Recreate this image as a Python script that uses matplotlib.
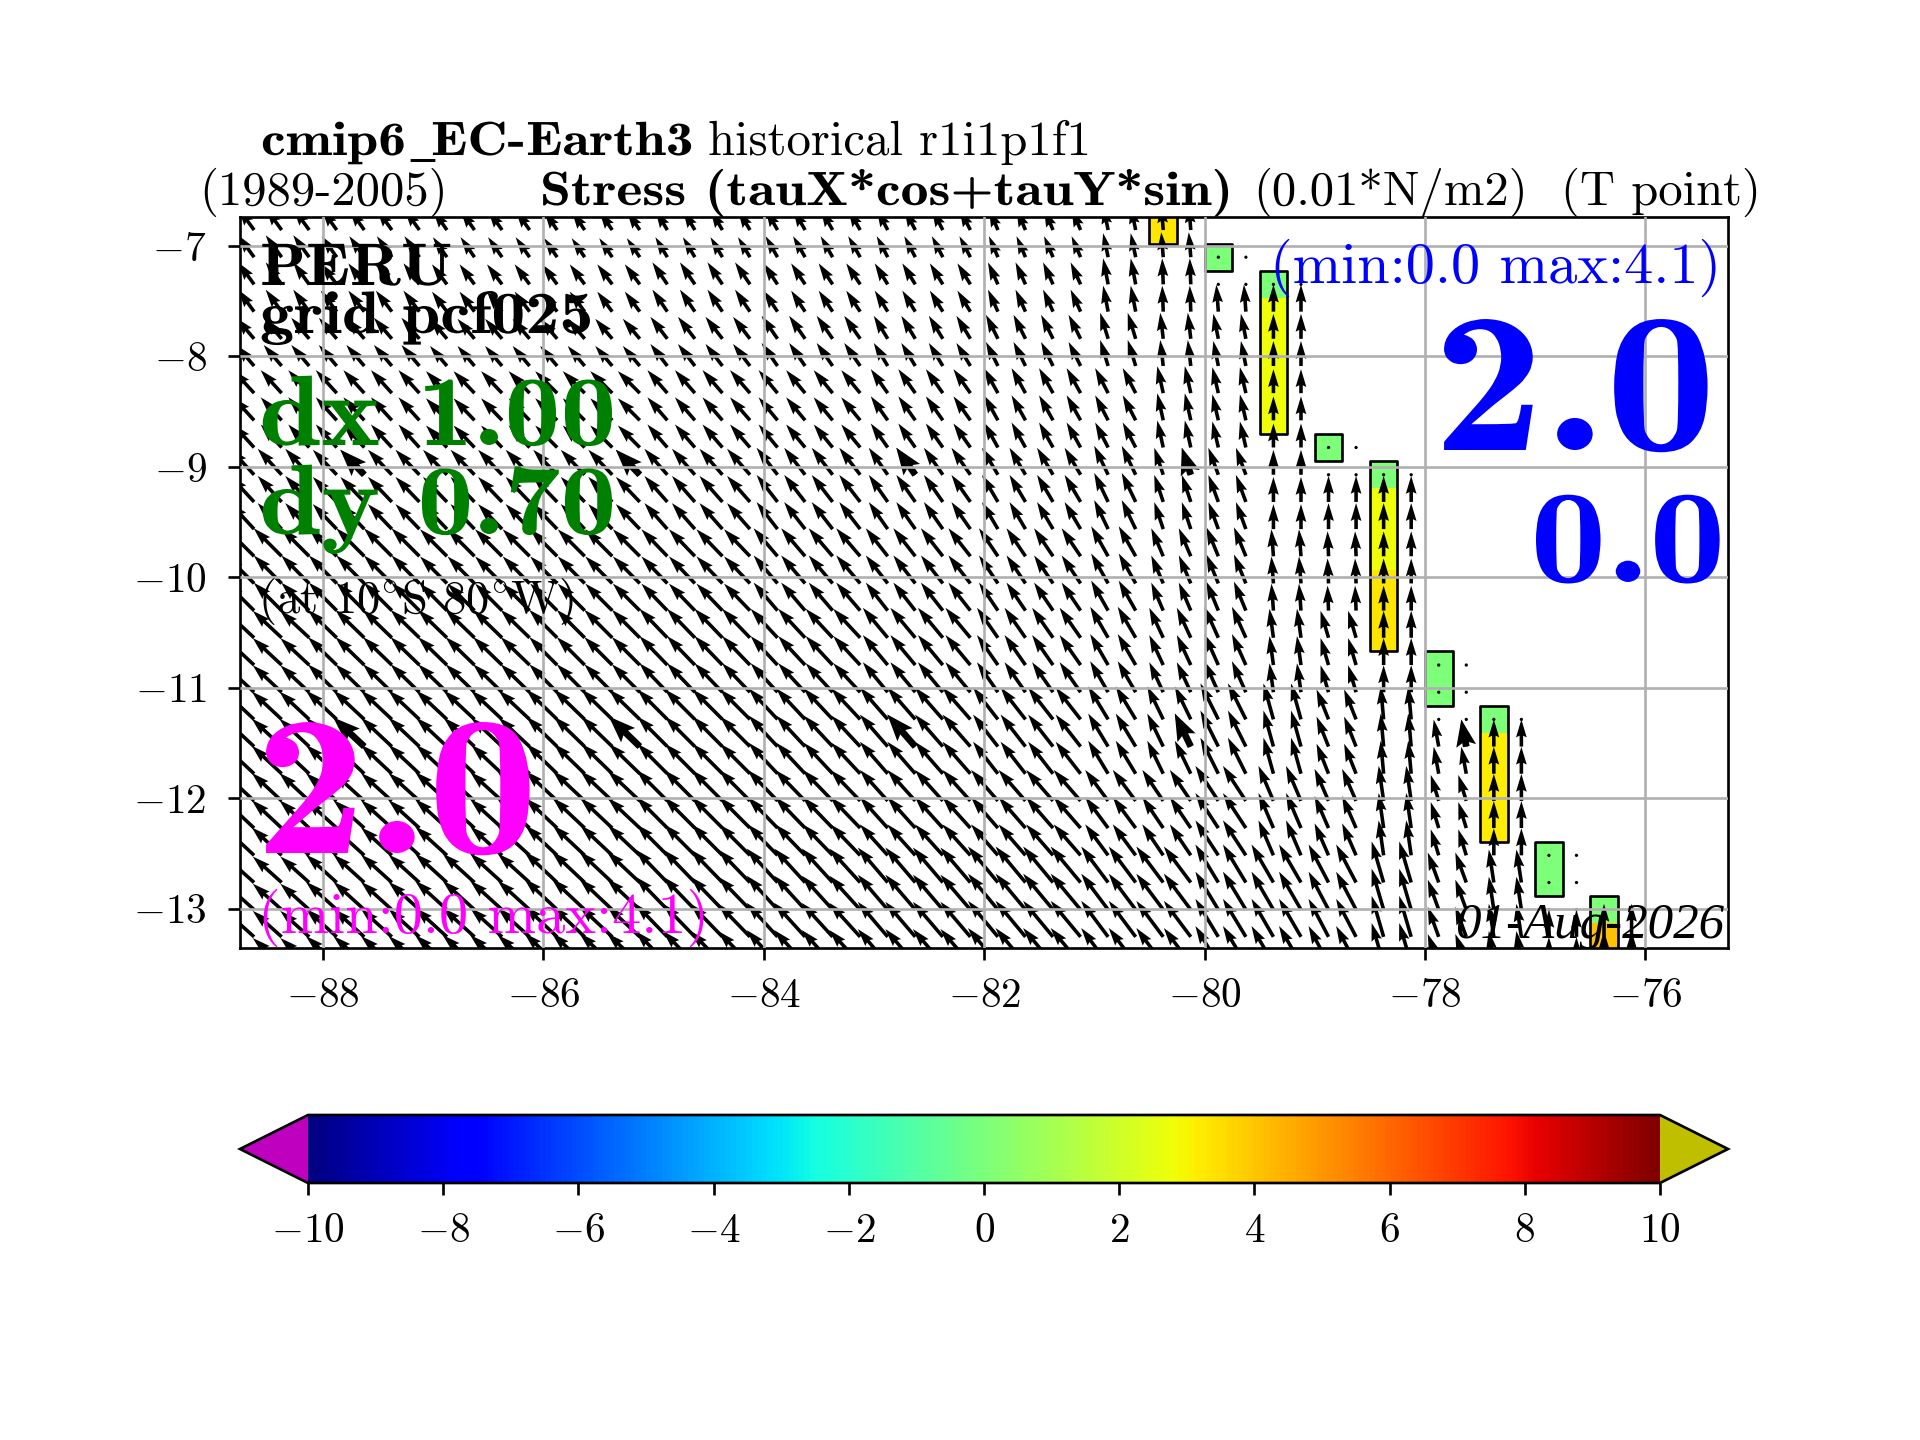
"""Wind stress vectors and magnitude cells off Peru (cmip6 EC-Earth3)"""
import numpy as np
import matplotlib
matplotlib.use('Agg')
import matplotlib.pyplot as plt
from matplotlib.patches import Rectangle
from matplotlib.patheffects import AbstractPathEffect
from matplotlib.transforms import Affine2D

plt.rcParams['font.family'] = ['cmr10']
plt.rcParams['mathtext.fontset'] = 'cm'
plt.rcParams['axes.unicode_minus'] = False

W, H = 1920.0, 1440.0

# fine grid: 0.25 deg in lon, mercator-like in lat
lons = np.arange(-88.625, -76.0, 0.25)
lats = np.array([-6.856, -7.102, -7.348, -7.595, -7.841, -8.087, -8.333, -8.579,
                 -8.825, -9.072, -9.318, -9.564, -9.810, -10.056, -10.302, -10.548,
                 -10.795, -11.041, -11.287, -11.533, -11.779, -12.025, -12.271,
                 -12.518, -12.764, -13.010, -13.256, -13.502])
first_k = -1  # index of lats[0] in the row numbering used below

# the model grid is coarser: block sizes in fine cells
row_counts = [2, 2, 2, 3, 3, 3, 3, 3, 3, 4]
col_counts = [3, 4, 4, 4, 4, 4, 4, 4, 2, 2, 2, 2, 2, 2, 2, 2, 2, 2]

# vector components per block, eastward and northward
taux_blocks = [
    [-16, -15, -14, -13, -12, -12, -11, -9, -5, -2, 0, 0, 0, 0, 0, 0, 0, 0],
    [-16, -16, -15, -15, -15, -14, -13, -10, -5, -1, -2, 0, 0, 0, 0, 0, 0, 0],
    [-18, -18, -17, -17, -17, -16, -14, -12, -8, -3, -5, 0, 0, 0, 0, 0, 0, 0],
    [-21, -21, -21, -22, -20, -19, -17, -14, -13, -6, -6, 0, 0, 0, 0, 0, 0, 0],
    [-24, -24, -24, -24, -23, -21, -19, -16, -14, -9, -10, 0, 0, 0, 0, 0, 0, 0],
    [-28, -28, -27, -27, -26, -24, -22, -19, -17, -12, -12, -2, -1, 0, 0, 0, 0, 0],
    [-29, -29, -29, -28, -28, -27, -25, -21, -18, -14, -14, -4, -8, 0, 0, 0, 0, 0],
    [-30, -31, -31, -31, -30, -29, -28, -25, -20, -16, -18, -10, -12, -3, -5, 0, 0, 0],
    [-30, -31, -32, -32, -31, -30, -28, -27, -23, -21, -23, -15, -14, -5, -8, 0, 0, 0],
    [-29, -31, -32, -33, -32, -31, -30, -30, -27, -27, -23, -22, -20, -12, -11, -5, 0, 0],
]
tauy_blocks = [
    [22, 21, 20, 19, 20, 21, 21, 21, 24, 25, 0, 0, 0, 0, 0, 0, 0, 0],
    [22, 21, 20, 20, 22, 21, 21, 22, 26, 26, 27, 27, 0, 0, 0, 0, 0, 0],
    [21, 21, 20, 20, 22, 23, 23, 24, 26, 26, 25, 25, 0, 0, 0, 0, 0, 0],
    [23, 23, 22, 22, 23, 23, 24, 25, 25, 27, 26, 24, 0, 0, 0, 0, 0, 0],
    [26, 25, 25, 25, 26, 27, 27, 27, 29, 27, 27, 25, 26, 26, 0, 0, 0, 0],
    [28, 28, 27, 27, 27, 28, 28, 28, 30, 28, 29, 27, 25, 25, 0, 0, 0, 0],
    [27, 28, 28, 28, 29, 29, 30, 30, 31, 30, 31, 29, 27, 27, 0, 0, 0, 0],
    [28, 29, 29, 30, 30, 31, 32, 32, 33, 33, 36, 36, 30, 33, 27, 27, 0, 0],
    [28, 28, 29, 30, 31, 31, 31, 31, 31, 31, 35, 35, 32, 35, 26, 27, 0, 0],
    [26, 28, 29, 31, 33, 34, 35, 36, 36, 36, 38, 38, 38, 41, 30, 33, 27, 33],
]

# last sea point on each row (land further east)
coast_lon = [-80.125, -79.625, -79.125, -79.125, -79.125, -79.125, -79.125, -79.125,
             -78.625, -78.125, -78.125, -78.125, -78.125, -78.125, -78.125, -78.125,
             -77.625, -77.625, -77.125, -77.125, -77.125, -77.125, -77.125,
             -76.625, -76.625, -76.125, -76.125, -76.125]
# rows with calm points next to the coast, from this lon to the coast
calm_rows = [0, 1, 7, 8, 15, 16, 17, 22, 23, 24]
calm_from = [-79.875, -79.875, -78.875, -78.875, -77.875, -77.875, -77.875,
             -76.875, -76.875, -76.875]

# coloured coastal cells
cell_lons = [-80.375, -79.875, -79.375, -78.875, -78.375, -77.875, -77.375, -76.875, -76.375]
cell_rows = [-1, 0, 1, 7, 8, 15, 17, 22, 24]
cell_vals = [[3.3], [0.0], [0.0, 2.8, 2.8, 2.8, 2.8, 2.8], [0.0],
             [0.0, 2.8, 2.8, 2.8, 3.3, 3.3, 3.3], [0.0, 0.0],
             [0.0, 3.2, 3.2, 3.2, 3.2], [0.0, 0.0], [0.0, 4.1]]

x_ticks = [-88, -86, -84, -82, -80, -78, -76]
y_ticks = [-7, -8, -9, -10, -11, -12, -13]
cbar_ticks = [-10, -8, -6, -4, -2, 0, 2, 4, 6, 8, 10]


class Stretch(AbstractPathEffect):
    """Widen a text about its origin, cmb10 is narrower than the bold face wanted"""

    def __init__(self, sx):
        super().__init__()
        self.sx = sx

    def draw_path(self, renderer, gc, tpath, affine, rgbFace=None):
        renderer.draw_path(gc, tpath, Affine2D().scale(self.sx, 1) + affine, rgbFace)


def fx(px):
    return px / W


def fy(py):
    return 1 - py / H


def build_vectors():
    """Expand the block tables on the fine grid and cut out the land"""
    u = np.repeat(np.repeat(np.array(taux_blocks, float), row_counts, axis=0), col_counts, axis=1)
    v = np.repeat(np.repeat(np.array(tauy_blocks, float), row_counts, axis=0), col_counts, axis=1)
    for j, limit in enumerate(coast_lon):
        u[j, lons > limit] = np.nan
        v[j, lons > limit] = np.nan
    for k, lon0 in zip(calm_rows, calm_from):
        j = k - first_k
        sel = (lons >= lon0) & (lons <= coast_lon[j])
        u[j, sel] = 0.0
        v[j, sel] = 0.0
    return np.ma.masked_invalid(u), np.ma.masked_invalid(v)


fig = plt.figure(figsize=(8, 6), dpi=240)
ax = fig.add_axes([fx(240), fy(948), fx(1488), (948 - 217) / H])

# edges of the fine cells
lon_edges = np.append(lons - 0.125, lons[-1] + 0.125)
lat_mid = 0.5 * (lats[1:] + lats[:-1])
lat_edges = np.concatenate(([lats[0] + 0.123], lat_mid, [lats[-1] - 0.123]))

field = np.full((len(lats), len(lons)), np.nan)
for lon, k0, vals in zip(cell_lons, cell_rows, cell_vals):
    i = int(np.argmin(np.abs(lons - lon)))
    j0 = k0 - first_k
    field[j0:j0 + len(vals), i] = vals

cmap = plt.get_cmap('jet').copy()
cmap.set_under((0.75, 0, 0.75))
cmap.set_over((0.75, 0.75, 0))
mesh = ax.pcolormesh(lon_edges, lat_edges, np.ma.masked_invalid(field), cmap=cmap, vmin=-10, vmax=10)

for lon, k0, vals in zip(cell_lons, cell_rows, cell_vals):
    j0 = k0 - first_k
    top, bottom = lat_edges[j0], lat_edges[j0 + len(vals)]
    ax.add_patch(Rectangle((lon - 0.125, bottom), 0.25, top - bottom, fill=False,
                           edgecolor='k', linewidth=0.8, joinstyle='round', zorder=1.5))

# arrows, plus the thick ones every tenth point
u, v = build_vectors()
ax.quiver(lons, lats, u, v, angles='xy', scale_units='xy', scale=110.5, pivot='tail',
          width=0.0024, zorder=2)
ax.quiver(lons[4::10], lats[9::10], u[9::10, 4::10], v[9::10, 4::10], angles='xy',
          scale_units='xy', scale=110.5, pivot='tail', width=0.0045,
          headlength=4, headaxislength=3.5, zorder=2)

ax.set_xlim(-88.753, -75.25)
ax.set_ylim(-13.357, -6.738)
ax.set_xticks(x_ticks, [f'${t}$' for t in x_ticks], fontsize=12.4)
ax.set_yticks(y_ticks, [f'${t}$' for t in y_ticks], fontsize=12.4)
ax.tick_params(axis='x', pad=5.5)
ax.tick_params(axis='y', pad=6.5)
ax.grid(True)
ax.set_axisbelow(False)

# colorbar, the axes box runs from tip to tip
cax = fig.add_axes([fx(240), fy(1183), fx(1488), 68 / H])
cbar = fig.colorbar(mesh, cax=cax, orientation='horizontal', extend='both', extendfrac=68 / 1352)
cbar.set_ticks(cbar_ticks, labels=[f'${t}$' for t in cbar_ticks])
cbar.ax.tick_params(labelsize=12.4, pad=5.5)


def put(px, py, txt, size, color='k', stretch=None, **kw):
    kw.setdefault('family', 'cmb10' if stretch else 'cmr10')
    t = fig.text(fx(px), fy(py), txt, fontsize=size, color=color, ha='left', va='baseline',
                 zorder=5, **kw)
    if stretch:
        t.set_path_effects([Stretch(stretch)])
    return t


# titles
put(261, 155, 'cmip6', 14.4, stretch=1.158)
put(410, 155, '_', 14.4, family='Liberation Serif', weight='bold')
put(431, 155, 'EC-Earth3', 14.4, stretch=1.158)
put(708, 155, 'historical r1i1p1f1', 14.6)
put(199, 205, '(1989-2005)', 14.6)
put(540, 205, 'Stress (tauX*cos+tauY*sin)', 14.4, stretch=1.16)
put(1253, 205, '(0.01*N/m2)', 14.6)
put(1561, 205, '(T point)', 14.6)

# labels inside the map
put(260, 285, 'PERU', 18, stretch=1.12)
put(260, 333, 'grid pcf025', 18, stretch=1.135)
put(259, 445, 'dx 1.00', 30, color='green', stretch=1.12)
put(259, 534, 'dy 0.70', 30, color='green', stretch=1.12)
put(258, 613, r'(at 10$^{\circ}$S 80$^{\circ}$W)', 14)
put(255, 853, '2.0', 60, color='magenta', stretch=1.11)
put(258, 933, '(min:0.0 max:4.1)', 17.5, color='magenta')
put(1270, 283, '(min:0.0 max:4.1)', 17.5, color='blue')
put(1433, 450, '2.0', 60, color='blue', stretch=1.11)
put(1530, 582, '0.0', 40, color='blue', stretch=1.15)
put(1455, 938, '01-Aug-2026', 15.3, family='Liberation Serif', style='italic')

fig.savefig('out.png', dpi=240)
